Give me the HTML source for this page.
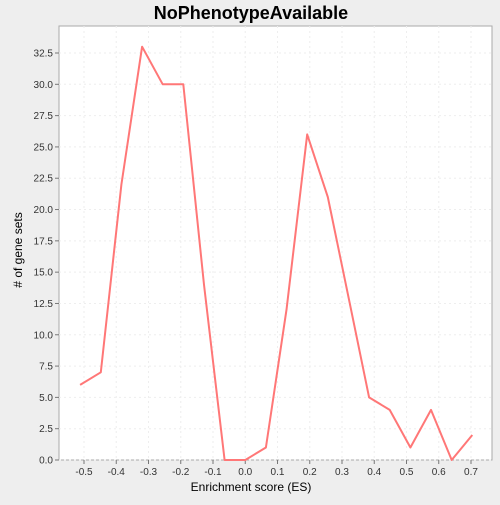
<!DOCTYPE html>
<html><head><style>
body{margin:0;background:#eeeeee;font-family:"Liberation Sans","DejaVu Sans",sans-serif;}
</style></head><body>
<svg id="chart" width="500" height="500" xmlns="http://www.w3.org/2000/svg">
<rect x="0" y="0" width="500" height="500" fill="#eeeeee"/>
<text x="251" y="19" text-anchor="middle" font-size="18" font-weight="bold" fill="#000">NoPhenotypeAvailable</text>
<rect x="59" y="26" width="433" height="434" fill="#ffffff" stroke="#aaaaaa"/>
<g id="grid"></g><g id="axes"></g><g id="series"></g>
<text x="251" y="491" text-anchor="middle" font-size="12" fill="#000">Enrichment score (ES)</text>
<text x="22" y="250" text-anchor="middle" font-size="12" fill="#000" transform="rotate(-90 22 250)"># of gene sets</text>
</svg>
<script>
const esValues=[-0.512,-0.448,-0.384,-0.320,-0.256,-0.192,-0.128,-0.064,0.000,0.064,0.128,0.192,0.256,0.320,0.384,0.448,0.512,0.576,0.640,0.704];
const counts=[6,7,22,33,30,30,14,0,0,1,12,26,21,13,5,4,1,4,0,2];
const xTicks=[-0.5,-0.4,-0.3,-0.2,-0.1,0.0,0.1,0.2,0.3,0.4,0.5,0.6,0.7];
const yTicks=[0,2.5,5,7.5,10,12.5,15,17.5,20,22.5,25,27.5,30,32.5];
const NS='http://www.w3.org/2000/svg';
const xs=v=>84+(v+0.5)*322.5;
const ys=v=>460-v*(407/32.5);
const grid=document.getElementById('grid'),axes=document.getElementById('axes'),series=document.getElementById('series');
function mk(tag,attrs,parent){const e=document.createElementNS(NS,tag);for(const k in attrs)e.setAttribute(k,attrs[k]);parent.appendChild(e);return e;}
xTicks.forEach(t=>{
 const x=xs(t);
 const g=mk('line',{x1:x,x2:x,y1:26,y2:460,stroke:'#eeeeee','stroke-dasharray':'2,3'},grid);
 
 
 const tk=mk('line',{x1:x,x2:x,y1:460,y2:464,stroke:'#777'},axes);
 
 
 const tx=mk('text',{x:x,y:475,'text-anchor':'middle','font-size':'10',fill:'#333'},axes);
 tx.textContent=t.toFixed(1);
 
 
});
yTicks.forEach(t=>{
 const y=ys(t);
 const g=mk('line',{x1:59,x2:492,y1:y,y2:y,stroke:'#eeeeee','stroke-dasharray':'2,3'},grid);
 
 
 const tk=mk('line',{x1:55,x2:59,y1:y,y2:y,stroke:'#777'},axes);
 
 
 const tx=mk('text',{x:53,y:y+3.5,'text-anchor':'end','font-size':'10',fill:'#333'},axes);
 tx.textContent=t.toFixed(1);
 
 
});
const pts=esValues.map((v,i)=>xs(v).toFixed(1)+','+ys(counts[i]).toFixed(1)).join(' ');
const line=mk('polyline',{points:pts,fill:'none',stroke:'#ff7777','stroke-width':'2','stroke-linejoin':'round'},series);


</script>
</body></html>
